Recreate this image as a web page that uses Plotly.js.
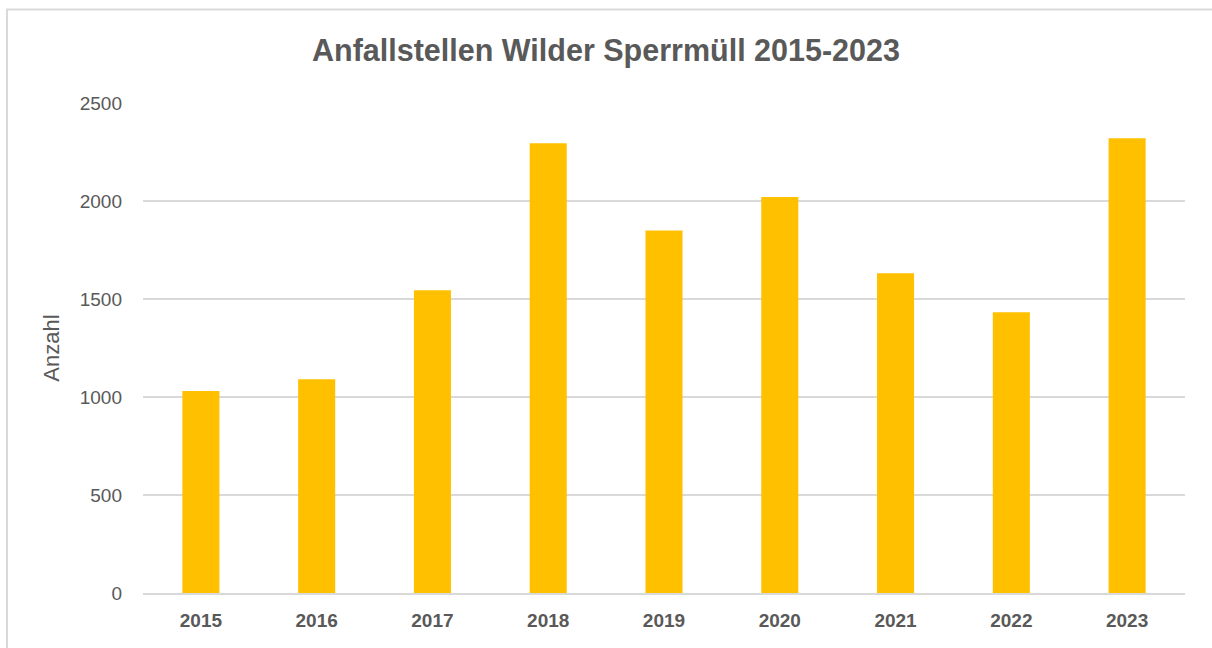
<!DOCTYPE html>
<html>
<head>
<meta charset="utf-8">
<script src="https://cdn.plot.ly/plotly-3.0.1.min.js"></script>
<style>html,body{margin:0;padding:0;background:#fff;}#chart{width:1212px;height:648px;}</style>
</head>
<body>
<div id="chart"></div>
<script>
const years = ["2015","2016","2017","2018","2019","2020","2021","2022","2023"];
const counts = [1030, 1090, 1545, 2295, 1850, 2020, 1632, 1433, 2320];
const yTicks = [0, 500, 1000, 1500, 2000, 2500];

const FONT = '"Liberation Sans", Arial, sans-serif';
const GRAY = '#595959';

const trace = {
  type: 'bar',
  x: years,
  y: counts,
  marker: {color: '#ffc000'},
  width: 0.32,
  hoverinfo: 'x+y'
};

const layout = {
  width: 1212,
  height: 648,
  margin: {l: 143, r: 27, t: 103, b: 54.5},
  paper_bgcolor: '#ffffff',
  plot_bgcolor: '#ffffff',
  showlegend: false,
  title: {
    text: '<b>Anfallstellen Wilder Sperrmüll 2015-2023</b>',
    font: {family: FONT, size: 30.5, color: GRAY},
    x: 0.5, xanchor: 'center',
    y: 0.923, yanchor: 'middle', yref: 'container'
  },
  xaxis: {
    type: 'category',
    tickfont: {family: FONT, size: 19, color: GRAY, weight: 'bold'},
    showgrid: false,
    zeroline: false,
    showline: true,
    linecolor: '#d9d9d9',
    linewidth: 2,
    ticks: '',
    ticklabelstandoff: 9
  },
  yaxis: {
    range: [0, 2500],
    tickvals: yTicks,
    ticktext: yTicks.map(String),
    tickfont: {family: FONT, size: 19, color: GRAY},
    showgrid: true,
    gridcolor: '#d9d9d9',
    gridwidth: 1.5,
    zeroline: false,
    ticks: '',
    ticklabelstandoff: 20,
    title: {text: 'Anzahl', font: {family: FONT, size: 22, color: GRAY}, standoff: 14}
  },
  shapes: [{
    type: 'rect', xref: 'paper', yref: 'paper',
    x0: -0.1305, x1: 1.3, y0: -0.3, y1: 1.191,
    line: {color: '#d9d9d9', width: 2},
    fillcolor: 'rgba(0,0,0,0)',
    layer: 'below'
  }]
};

Plotly.newPlot('chart', [trace], layout, {displayModeBar: false, staticPlot: true});
</script>
</body>
</html>
